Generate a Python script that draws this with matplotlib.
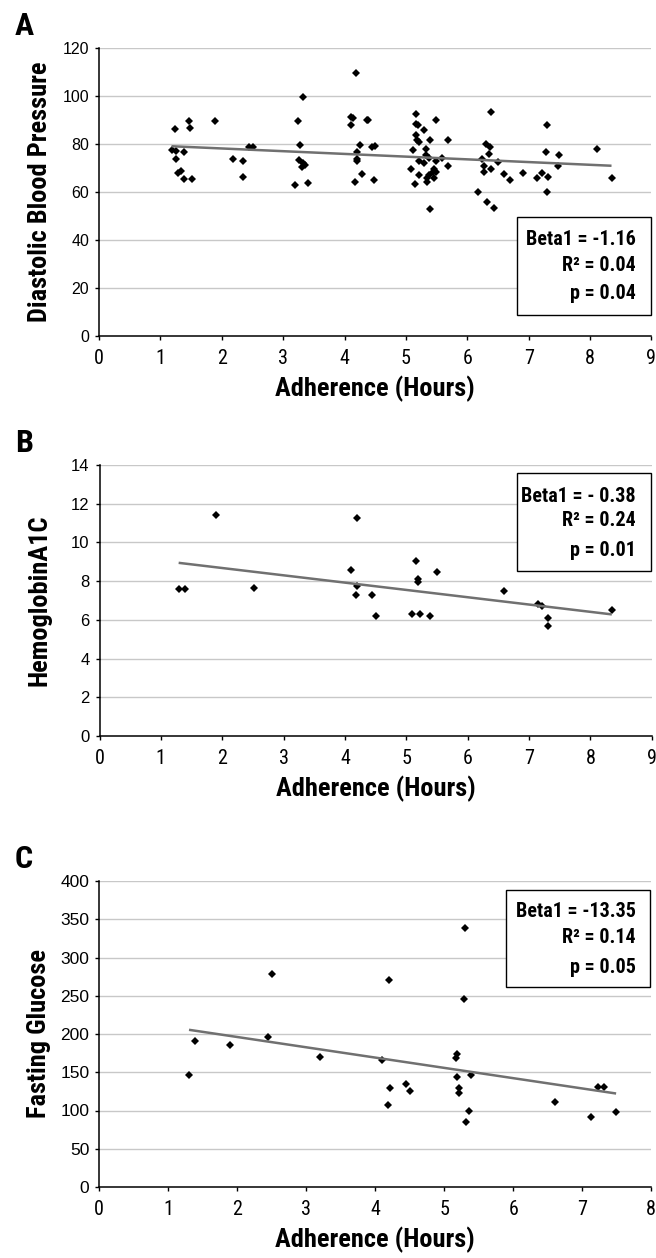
import numpy as np
import matplotlib
matplotlib.use("Agg")
import matplotlib.pyplot as plt
from matplotlib.patches import Rectangle

# ---------------- data ----------------
dbp_hours = [1.24, 1.18, 1.26, 1.39, 1.25, 1.46, 1.48, 1.29, 1.34, 1.39, 1.52, 1.89,
             2.19, 2.35, 2.35, 2.45, 2.50, 3.24, 3.33, 3.28, 3.25, 3.33, 3.30, 3.36,
             3.20, 3.41, 4.19, 4.11, 4.13, 4.10, 4.36, 4.39, 4.25, 4.20, 4.20, 4.20,
             4.28, 4.17, 4.44, 4.49, 4.48, 5.17, 5.17, 5.19, 5.30, 5.49, 5.17, 5.18,
             5.22, 5.39, 5.69, 5.12, 5.32, 5.33, 5.37, 5.22, 5.29, 5.49, 5.58, 5.09,
             5.46, 5.44, 5.49, 5.69, 5.22, 5.37, 5.34, 5.45, 5.35, 5.15, 5.40, 6.39,
             6.30, 6.37, 6.36, 6.24, 6.50, 6.28, 6.39, 6.28, 6.60, 6.70, 6.90, 6.18,
             6.32, 6.44, 7.30, 7.28, 7.50, 7.48, 7.22, 7.13, 7.32, 7.30, 8.11, 8.35]
dbp_values = [86.2, 77.6, 77.3, 76.8, 74.0, 89.7, 86.9, 67.9, 68.9, 65.4, 65.4, 89.7,
              74.0, 72.9, 66.2, 78.7, 78.7, 89.7, 99.8, 79.8, 73.5, 72.1, 70.4, 71.5,
              63.0, 63.7, 109.7, 91.2, 90.8, 87.8, 89.9, 89.9, 79.8, 76.8, 74.0, 73.2,
              67.5, 64.2, 78.7, 79.2, 65.1, 92.5, 88.3, 87.8, 86.0, 89.9, 83.9, 81.8,
              81.1, 81.9, 81.9, 77.6, 78.0, 75.5, 74.4, 72.8, 72.3, 72.9, 74.4, 69.8,
              69.6, 68.6, 68.2, 71.0, 67.2, 67.1, 65.8, 65.8, 64.2, 63.5, 53.0, 93.3,
              80.1, 78.7, 75.8, 73.9, 72.5, 71.0, 69.7, 68.5, 67.5, 65.1, 67.8, 60.0,
              56.0, 53.3, 87.8, 76.9, 75.5, 70.8, 67.8, 65.8, 66.2, 60.0, 78.0, 65.8]

a1c_hours = [1.29, 1.39, 1.90, 2.51, 4.19, 4.10, 4.20, 4.18, 4.44, 4.51, 5.16, 5.19,
             5.19, 5.50, 5.10, 5.22, 5.39, 6.60, 7.14, 7.22, 7.31, 7.31, 8.35]
a1c_values = [7.58, 7.58, 11.43, 7.63, 11.28, 8.57, 7.77, 7.27, 7.28, 6.20, 9.02, 8.13,
              7.95, 8.45, 6.28, 6.28, 6.20, 7.47, 6.80, 6.70, 6.11, 5.70, 6.49]

glu_hours = [1.39, 1.30, 1.90, 2.50, 2.44, 3.20, 4.20, 4.10, 4.21, 4.18, 4.44, 4.50,
             5.30, 5.29, 5.18, 5.17, 5.18, 5.39, 5.22, 5.22, 5.36, 5.31, 6.60, 7.23,
             7.31, 7.13, 7.49]
glu_values = [191.3, 146.4, 185.6, 278.4, 196.5, 169.5, 270.2, 166.0, 129.8, 106.8,
              134.3, 125.9, 338.6, 245.8, 173.5, 169.1, 143.8, 146.4, 129.0, 122.5,
              99.7, 84.6, 110.7, 130.3, 130.3, 91.9, 98.4]

stats_a = ["Beta1 = -1.16", "R\u00b2 = 0.04", "p = 0.04"]
stats_b = ["Beta1 = - 0.38", "R\u00b2 = 0.24", "p = 0.01"]
stats_c = ["Beta1 = -13.35", "R\u00b2 = 0.14", "p = 0.05"]

x_label = "Adherence (Hours)"
y_labels = ["Diastolic Blood Pressure", "HemoglobinA1C", "Fasting Glucose"]
panel_letters = ["A", "B", "C"]

# ---------------- layout helpers ----------------
W, H = 656, 1258
DPI = 100
fig = plt.figure(figsize=(W / DPI, H / DPI), dpi=DPI)
fig.patch.set_facecolor("white")

NARROW = ["Roboto Condensed", "Archivo Narrow", "DejaVu Sans"]
REG = ["Liberation Sans", "DejaVu Sans"]


def rect_px(left, right, top, bottom):
    return [left / W, 1 - bottom / H, (right - left) / W, (bottom - top) / H]


def fxy(px, py):
    return px / W, 1 - py / H


panels = [
    dict(x=dbp_hours, y=dbp_values, xmax=9, ymax=120, ystep=20,
         box=(517.3, 650.5, 216.7, 315.0), base=(245.0, 270.7, 299.3),
         stats=stats_a, rect=(99.1, 651.4, 48.3, 336.0), ytick_fs=11.5,
         ylab_x=40),
    dict(x=a1c_hours, y=a1c_values, xmax=9, ymax=14, ystep=2,
         box=(517.0, 650.7, 472.7, 570.7), base=(501.7, 526.0, 556.0),
         stats=stats_b, rect=(99.5, 651.7, 465.0, 736.0), ytick_fs=12,
         ylab_x=40),
    dict(x=glu_hours, y=glu_values, xmax=8, ymax=400, ystep=50,
         box=(505.7, 650.3, 890.0, 987.3), base=(917.3, 943.3, 972.7),
         stats=stats_c, rect=(99.3, 651.3, 881.0, 1187.0), ytick_fs=12.5,
         ylab_x=39),
]

for i, p in enumerate(panels):
    left, right, top, bottom = p["rect"]
    ax = fig.add_axes(rect_px(left, right, top, bottom))
    ax.set_facecolor("none")
    x = np.array(p["x"])
    y = np.array(p["y"])

    ax.set_xlim(0, p["xmax"])
    ax.set_ylim(0, p["ymax"])
    ax.set_xticks(np.arange(0, p["xmax"] + 1, 1))
    ax.set_yticks(np.arange(0, p["ymax"] + p["ystep"] / 2, p["ystep"]))
    ax.set_xticklabels([str(int(v)) for v in ax.get_xticks()], family=NARROW, fontsize=14.5)
    ax.set_yticklabels([str(int(v)) for v in ax.get_yticks()], family=REG, fontsize=p["ytick_fs"])

    for spine in ("top", "right"):
        ax.spines[spine].set_visible(False)
    for spine in ("left", "bottom"):
        ax.spines[spine].set_linewidth(1.1)
        ax.spines[spine].set_color("black")
    ax.tick_params(axis="both", direction="out", length=3.1, width=1.0, color="black")
    ax.tick_params(axis="y", pad=4.0)
    ax.tick_params(axis="x", pad=6.5)

    # horizontal gridlines
    ax.yaxis.grid(True, color="#c8c8c8", linewidth=1.0)
    ax.xaxis.grid(False)
    ax.set_axisbelow(True)
    ax.get_ygridlines()[0].set_visible(False)

    ax.plot(x, y, linestyle="none", marker="D", markersize=4.0, markeredgewidth=0,
            color="black", zorder=3, clip_on=False)

    slope, intercept = np.polyfit(x, y, 1)
    xs = np.array([x.min(), x.max()])
    ax.plot(xs, slope * xs + intercept, color="#707070", linewidth=1.8, zorder=4,
            solid_capstyle="butt")

    # stats box
    bx0, bx1, by0, by1 = p["box"]
    fx0, fy1 = fxy(bx0, by0)
    fx1, fy0 = fxy(bx1, by1)
    fig.add_artist(Rectangle((fx0, fy0), fx1 - fx0, fy1 - fy0, transform=fig.transFigure,
                             facecolor="white", edgecolor="black", linewidth=1.0, zorder=5))
    for txt, bl in zip(p["stats"], p["base"]):
        tx, ty = fxy(635.8, bl)
        fig.text(tx, ty, txt, ha="right", va="baseline", family=NARROW,
                 fontweight="bold", fontsize=14.5, zorder=6)

    # labels
    cx, cy = fxy(p["ylab_x"], (top + bottom) / 2)
    fig.text(cx, cy, y_labels[i], rotation=90, ha="center", va="center",
             family=NARROW, fontweight="bold", fontsize=19)
    lx, ly = fxy((left + right) / 2, bottom + 53)
    fig.text(lx, ly, x_label, ha="center", va="center", family=NARROW,
             fontweight="bold", fontsize=19)
    px_, py_ = fxy(15, top - 22)
    fig.text(px_, py_, panel_letters[i], ha="left", va="center", family=NARROW,
             fontweight="bold", fontsize=23)

fig.savefig("out.png", dpi=DPI, facecolor="white")
